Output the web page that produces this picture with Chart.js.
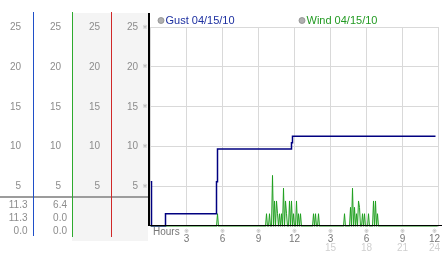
<!DOCTYPE html>
<html><head><meta charset="utf-8">
<script src="https://cdn.jsdelivr.net/npm/chart.js@4.4.0/dist/chart.umd.min.js"></script>
<style>html,body{margin:0;padding:0;background:#fff;overflow:hidden}#c{display:block}</style>
</head><body><canvas id="c" width="442" height="253"></canvas>
<script>
// ---- data ----
const seriesLabels = ['Gust 04/15/10', 'Wind 04/15/10'];
const yTicks = [5, 10, 15, 20, 25];
const xTickHours = [3, 6, 9, 12, 15, 18, 21, 24];
// gust: change points (minutes after midnight) and new values
const gustMinutes = [0, 5, 75, 330, 335, 705, 710, 1425];
const gustValues  = [5.6, 0, 1.6, 5.6, 9.7, 10.5, 11.3, 11.3];
// wind: 5-minute samples, only non-zero samples listed (sample index)
const windSpikeIndex = [67, 116, 119, 122, 124, 126, 127, 129, 131, 133, 135, 136, 139, 141, 143, 146, 148, 150,
  163, 165, 168, 194, 200, 202, 204, 206, 208, 209, 212, 214, 218, 223, 225, 227];
const windSpikeValues = [1.6, 1.6, 1.6, 6.4, 3.2, 3.2, 1.6, 1.6, 1.6, 4.8, 3.2, 1.6, 3.2, 3.2, 1.6, 3.2, 1.6, 1.6,
  1.6, 1.6, 1.6, 1.6, 2.4, 4.8, 2.4, 1.6, 3.2, 2.4, 1.6, 1.6, 1.6, 3.2, 3.2, 1.6];
const windSampleCount = 288;

// ---- build datasets ----
const gustData = gustMinutes.map((m, i) => ({x: m / 60, y: gustValues[i]}));
const windData = [];
for (let i = 0; i < windSampleCount; i++) {
  const k = windSpikeIndex.indexOf(i);
  windData.push({x: i * 5 / 60, y: k >= 0 ? windSpikeValues[k] : 0});
}
const gustAll = gustValues.slice(1);
const windAll = windData.map(p => p.y);
const readouts = [
  [Math.max(...gustValues), gustValues[gustValues.length - 1], Math.min(...gustAll)],
  [Math.max(...windAll), windAll[windAll.length - 1], Math.min(...windAll)]
];

const FONT = '"Liberation Sans", Arial, sans-serif';
const panel = {
  id: 'panel',
  beforeDraw(chart) {
    const c = chart.ctx;
    c.save();
    c.fillStyle = '#fff';
    c.fillRect(0, 0, chart.width, chart.height);
    c.fillStyle = '#f4f4f4';
    c.fillRect(72, 13, 76, 228);
    c.restore();
  },
  afterDatasetsDraw(chart) {
    const c = chart.ctx, xs = chart.scales.x, ys = chart.scales.y;
    c.save();
    // separator
    c.fillStyle = '#9c9c9c';
    c.fillRect(0, 196, 148, 2);
    // column lines
    c.fillStyle = '#1f4fc8'; c.fillRect(33, 12, 1, 224);
    c.fillStyle = '#2eaa2e'; c.fillRect(72, 12, 1, 225);
    c.fillStyle = '#d02828'; c.fillRect(111, 12, 1, 225);
    // main axes
    c.fillStyle = '#000';
    c.fillRect(148, 13, 2, 213);
    c.fillRect(148, 225, 294, 1);
    // y tick labels in four columns
    c.font = '10px ' + FONT;
    c.textBaseline = 'middle';
    const cols = [21, 61, 100, 138];
    yTicks.forEach(v => {
      const py = ys.getPixelForValue(v);
      c.fillStyle = '#8c8c8c';
      c.textAlign = 'right';
      cols.forEach(cx => c.fillText(String(v), cx, py));
      c.fillStyle = '#aaa';
      c.font = '6px "DejaVu Sans"';
      c.textAlign = 'center';
      c.fillText('※', 145, py);
      c.font = '10px ' + FONT;
    });
    // readouts
    c.fillStyle = '#8c8c8c';
    c.textAlign = 'right';
    const rowsY = [205, 218, 231.5];
    const rcols = [27.5, 67];
    readouts.forEach((vals, ci) => vals.forEach((v, ri) => c.fillText(v.toFixed(1), rcols[ci], rowsY[ri])));
    // x labels
    c.textAlign = 'center';
    xTickHours.forEach(h => {
      let px = xs.getPixelForValue(h);
      const l1 = String(h > 12 ? h - 12 : h);
      c.font = '10px ' + FONT;
      const w = c.measureText(l1).width;
      if (px + w / 2 > 440) px = 440 - w / 2;
      c.fillStyle = '#aaa';
      c.font = '6px "DejaVu Sans"';
      c.fillText('※', px, 231);
      c.font = '10px ' + FONT;
      c.fillStyle = '#777';
      c.fillText(l1, px, 239);
      if (h > 12) {
        c.fillStyle = '#cfcfcf';
        c.fillText(String(h), px, 248.5);
      }
    });
    c.textAlign = 'left';
    c.fillStyle = '#777';
    c.fillText('Hours', 153, 232);
    // legend
    const leg = [[161, '#1c2fa0'], [302, '#229a22']];
    c.font = '11px ' + FONT;
    leg.forEach((l, i) => {
      c.beginPath();
      c.arc(l[0], 20.5, 3, 0, Math.PI * 2);
      c.fillStyle = '#b0b0b0'; c.fill();
      c.strokeStyle = '#8a8a8a'; c.lineWidth = 0.8; c.stroke();
      c.fillStyle = l[1];
      c.fillText(seriesLabels[i], l[0] + 4.5, 20.5);
    });
    c.restore();
  }
};

new Chart(document.getElementById('c'), {
  type: 'line',
  data: {
    datasets: [
      {label: seriesLabels[0], data: gustData, borderColor: '#000080', borderWidth: 1.5, pointRadius: 0, stepped: true},
      {label: seriesLabels[1], data: windData, borderColor: '#1f9f1f', borderWidth: 1, pointRadius: 0, tension: 0}
    ]
  },
  options: {
    responsive: false, animation: false, devicePixelRatio: 1,
    layout: {padding: {left: 150.5, right: 3.5, top: 27, bottom: 26.5}},
    plugins: {legend: {display: false}, tooltip: {enabled: false}},
    scales: {
      x: {type: 'linear', min: 0, max: 24, ticks: {display: false, stepSize: 3},
          grid: {color: '#d9d9d9', drawTicks: false}, border: {display: false},
          afterFit(s) { s.height = 0; }},
      y: {min: 0, max: 25, ticks: {display: false, stepSize: 5},
          grid: {color: '#d9d9d9', drawTicks: false}, border: {display: false},
          afterFit(s) { s.width = 0; }}
    }
  },
  plugins: [panel]
});
</script></body></html>
